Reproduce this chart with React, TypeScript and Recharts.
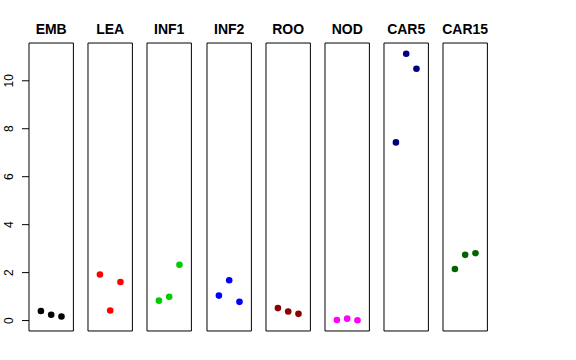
import React from "react";
import { ScatterChart, Scatter, XAxis, YAxis, ReferenceArea, Label } from "recharts";

const tissues = ["EMB", "LEA", "INF1", "INF2", "ROO", "NOD", "CAR5", "CAR15"];
const emb = [0.4, 0.24, 0.17];
const lea = [1.92, 0.42, 1.61];
const inf1 = [0.83, 0.99, 2.33];
const inf2 = [1.04, 1.68, 0.78];
const roo = [0.52, 0.38, 0.28];
const nod = [0.02, 0.08, 0.01];
const car5 = [7.43, 11.13, 10.5];
const car15 = [2.15, 2.74, 2.81];
const yTicks = [0, 2, 4, 6, 8, 10];

const series = [emb, lea, inf1, inf2, roo, nod, car5, car15];
const colors = ["#000000", "#ff0000", "#00cd00", "#0000ff", "#8b0000", "#ff00ff", "#000080", "#006400"];

// R-style axis limits: data range plus 4% on each side
const all = series.flat();
const lo = Math.min(...all);
const hi = Math.max(...all);
const pad = (hi - lo) * 0.04;
const yDomain: [number, number] = [lo - pad, hi + pad];
const xDomain: [number, number] = [-0.16, 4.16];

const FONT = "'Liberation Sans', Arial, Helvetica, sans-serif";
const PANEL_W = 44.4;
const STEP = 59.2;
const FIRST = 29;
const H = 360;
const TOP = 43;
const BOTTOM = 29;

const Dot = (props: any) => <circle cx={props.cx} cy={props.cy} r={3.3} fill={props.fill} />;

const YTick = ({ y, payload }: any) => (
  <text
    x={13.5}
    y={y}
    transform={`rotate(-90, 13.5, ${y})`}
    textAnchor="middle"
    fontSize={12}
    fontFamily={FONT}
    fill="#000"
  >
    {payload.value}
  </text>
);

const Panel = ({ idx }: { idx: number }) => {
  const first = idx === 0;
  const side = 8;
  const left = first ? 0 : FIRST + idx * STEP - side;
  const width = first ? FIRST + PANEL_W + side : PANEL_W + side * 2;
  const data = series[idx].map((v, j) => ({ x: j + 1, y: v }));
  return (
    <div style={{ position: "absolute", left, top: 0 }}>
      <ScatterChart
        width={width}
        height={H}
        margin={{ top: TOP, bottom: BOTTOM, left: first ? 0 : side, right: side }}
      >
        <XAxis type="number" dataKey="x" domain={xDomain} hide />
        <YAxis
          type="number"
          dataKey="y"
          domain={yDomain}
          ticks={yTicks}
          hide={!first}
          width={FIRST}
          axisLine={false}
          tickSize={7}
          tickLine={{ stroke: "#000" }}
          tick={<YTick />}
          interval={0}
        />
        <ReferenceArea
          x1={xDomain[0]}
          x2={xDomain[1]}
          y1={yDomain[0]}
          y2={yDomain[1]}
          fill="none"
          stroke="#000"
          strokeWidth={1}
          fillOpacity={0}
          strokeOpacity={1}
          ifOverflow="visible"
        >
          <Label
            value={tissues[idx]}
            position="top"
            offset={9}
            fontSize={14}
            fontWeight="bold"
            fontFamily={FONT}
            fill="#000"
          />
        </ReferenceArea>
        <Scatter data={data} fill={colors[idx]} shape={<Dot />} isAnimationActive={false} />
      </ScatterChart>
    </div>
  );
};

export default function App() {
  return (
    <div style={{ position: "absolute", left: 0, top: 0, width: 576, height: 360, background: "#fff" }}>
      {tissues.map((_, i) => (
        <Panel key={i} idx={i} />
      ))}
    </div>
  );
}
